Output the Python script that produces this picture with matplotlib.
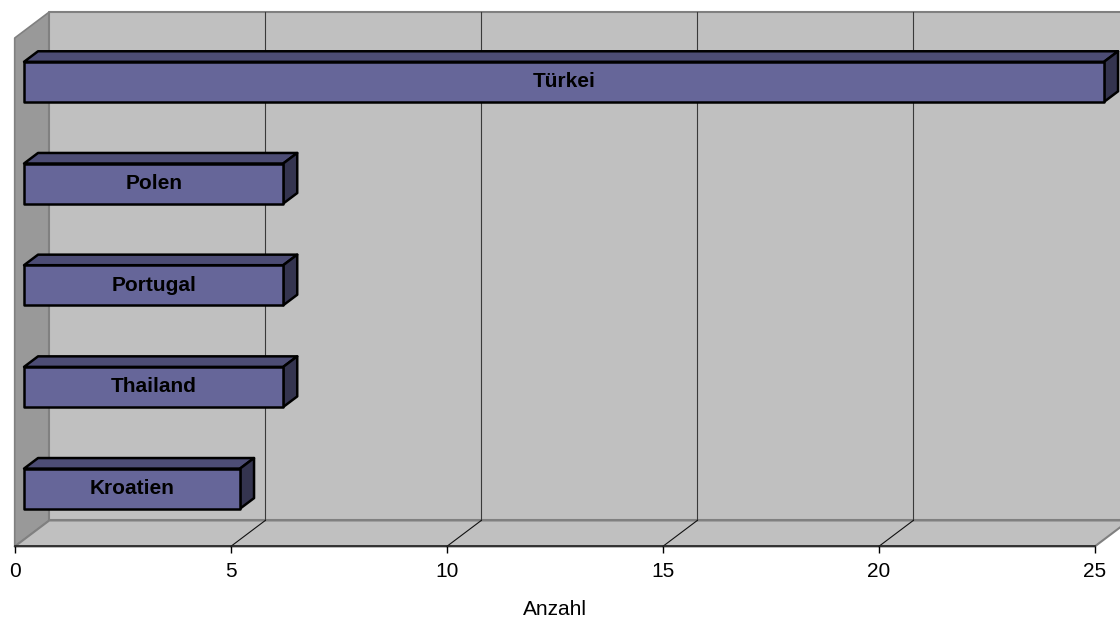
import matplotlib
matplotlib.use("Agg")
import matplotlib.pyplot as plt
from matplotlib.patches import Polygon

plt.rcParams["font.family"] = ["Liberation Sans", "DejaVu Sans"]

# data (bottom to top)
countries = ["Kroatien", "Thailand", "Portugal", "Polen", "Türkei"]
counts = [5, 6, 6, 6, 25]
ticks = [0, 5, 10, 15, 20, 25]
x_label = "Anzahl"

# 3D look: depth offset in data units
DEPTH_X = 0.80
DEPTH_Y = 0.256
BAR_FRONT = 0.27
BAR_BACK = 0.675
BAR_HALF = 0.197

FRONT_COLOR = "#666699"
TOP_COLOR = "#4d4d75"
SIDE_COLOR = "#34344f"
WALL_COLOR = "#c0c0c0"
SIDE_WALL_COLOR = "#999999"
WALL_EDGE = "#808080"


def add_poly(ax, pts, face, edge, lw, z):
    ax.add_patch(Polygon(pts, closed=True, facecolor=face, edgecolor=edge,
                         linewidth=lw, zorder=z, clip_on=False,
                         joinstyle="round"))


def main() -> None:
    fig = plt.figure(figsize=(11.2, 6.21), dpi=100)
    ax = fig.add_axes([0.01313, 0.11997, 0.96429, 0.8188])
    xmax = ticks[-1]
    y0, y1 = -0.5, len(countries) - 0.5
    ax.set_xlim(0, xmax)
    ax.set_ylim(y0, y1)
    ax.patch.set_visible(False)

    # walls
    add_poly(ax, [(0, y0), (0, y1), (DEPTH_X, y1 + DEPTH_Y), (DEPTH_X, y0 + DEPTH_Y)],
             SIDE_WALL_COLOR, WALL_EDGE, 1.2, 1)
    add_poly(ax, [(DEPTH_X, y0 + DEPTH_Y), (DEPTH_X, y1 + DEPTH_Y),
                  (xmax + DEPTH_X, y1 + DEPTH_Y), (xmax + DEPTH_X, y0 + DEPTH_Y)],
             WALL_COLOR, WALL_EDGE, 1.5, 1)
    add_poly(ax, [(0, y0), (xmax, y0), (xmax + DEPTH_X, y0 + DEPTH_Y), (DEPTH_X, y0 + DEPTH_Y)],
             WALL_COLOR, WALL_EDGE, 1.5, 1)

    # gridlines on back wall and floor
    for t in ticks[1:-1]:
        ax.plot([t + DEPTH_X, t + DEPTH_X], [y0 + DEPTH_Y, y1 + DEPTH_Y],
                color="#3a3a3a", linewidth=0.8, zorder=2, clip_on=False)
        ax.plot([t, t + DEPTH_X], [y0, y0 + DEPTH_Y],
                color="#111111", linewidth=0.8, zorder=2, clip_on=False)

    # bars
    fx, fy = BAR_FRONT * DEPTH_X, BAR_FRONT * DEPTH_Y
    bx, by = BAR_BACK * DEPTH_X, BAR_BACK * DEPTH_Y
    for i, (name, value) in enumerate(zip(countries, counts)):
        lo, hi = i - BAR_HALF, i + BAR_HALF
        add_poly(ax, [(fx, hi + fy), (value + fx, hi + fy), (value + bx, hi + by), (bx, hi + by)],
                 TOP_COLOR, "black", 1.8, 3)
        add_poly(ax, [(value + fx, lo + fy), (value + fx, hi + fy),
                      (value + bx, hi + by), (value + bx, lo + by)],
                 SIDE_COLOR, "black", 1.8, 3)
        add_poly(ax, [(fx, lo + fy), (value + fx, lo + fy), (value + fx, hi + fy), (fx, hi + fy)],
                 FRONT_COLOR, "black", 1.8, 4)
        ax.text(fx + value / 2, i + fy, name, ha="center", va="center",
                fontsize=15, fontweight="bold", color="black", zorder=5)

    # axis
    for side in ("top", "right", "left"):
        ax.spines[side].set_visible(False)
    ax.spines["bottom"].set_color("#222222")
    ax.spines["bottom"].set_linewidth(1.2)
    ax.spines["bottom"].set_zorder(6)
    ax.set_yticks([])
    ax.set_xticks(ticks)
    ax.set_xticklabels([str(t) for t in ticks])
    ax.tick_params(axis="x", direction="out", length=5, width=1, color="black",
                   labelsize=15, pad=6)
    ax.set_xlabel(x_label, fontsize=15, labelpad=14)

    fig.savefig("out.png", dpi=100)


if __name__ == "__main__":
    main()
